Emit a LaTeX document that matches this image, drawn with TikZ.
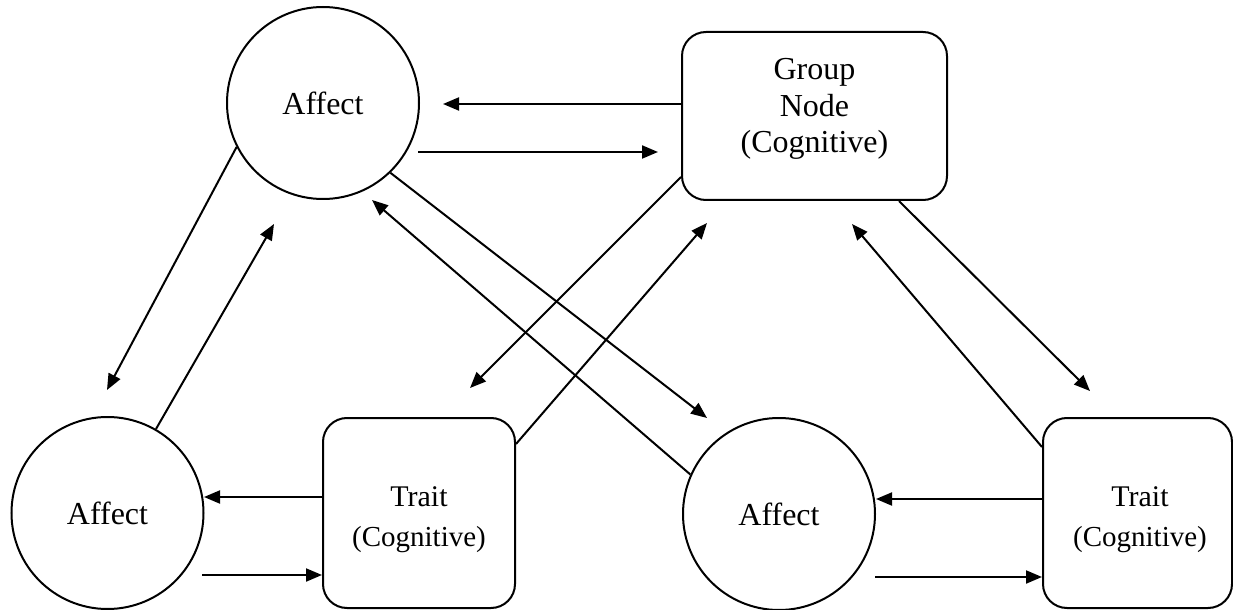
\documentclass[tikz,border=0pt]{standalone}
\usepackage{fontspec}
\setmainfont{Liberation Serif}
\usetikzlibrary{arrows.meta}
\begin{document}
\begin{tikzpicture}[x=0.5pt,y=-0.5pt,
  affect/.style={draw,circle,line width=1pt,minimum size=96pt,inner sep=0pt,font=\fontsize{16}{19}\selectfont},
  cogbox/.style={draw,rounded corners=12pt,line width=1pt,inner sep=0pt},
  boxtext/.style={align=center,inner sep=0pt},
  arr/.style={line width=1pt,-{Triangle[length=8pt,width=6.5pt]}},
  ]
\useasboundingbox (0,0) rectangle (1233,610);
% nodes
\node[affect] (A1) at (323,103) {Affect};
\node[affect] (A2) at (107.5,513) {Affect};
\node[affect] (A3) at (779,514) {Affect};
\node[cogbox,minimum width=132.5pt,minimum height=84pt] (G) at (814.5,116) {};
\node[boxtext,font=\fontsize{16}{18.25}\selectfont] (Gt) at (814.5,109) {Group\\Node\\(Cognitive)};
\node[cogbox,minimum width=96pt,minimum height=95pt] (T1) at (419,513) {};
\node[boxtext,font=\fontsize{15}{20}\selectfont] (T1t) at (419,520) {Trait\\{\fontsize{14.5}{20}\selectfont (Cognitive)}};
\node[cogbox,minimum width=94.5pt,minimum height=95pt] (T2) at (1137.5,513) {};
\node[boxtext,font=\fontsize{15}{20}\selectfont] (T2t) at (1140,520) {Trait\\{\fontsize{14.5}{20}\selectfont (Cognitive)}};
% free ends
\coordinate (e1) at (443,104);
\coordinate (s2) at (418,152);
\coordinate (e2) at (658,152);
\coordinate (e3) at (107,390);
\coordinate (e4) at (274,224);
\coordinate (e5) at (707,418);
\coordinate (e6) at (372,200);
\coordinate (e7) at (470,388);
\coordinate (e8) at (707,223);
\coordinate (e9) at (1090,391);
\coordinate (e10) at (852,224);
\coordinate (e11) at (204,497);
\coordinate (s12) at (202,575);
\coordinate (e13) at (876,499);
\coordinate (s14) at (875,577);
% connectors
\draw[arr] ([yshift=6pt]G.west) -- (e1);
\draw[arr] (s2) -- (e2);
\draw[arr] (A1.207) -- (e3);
\draw[arr] (A2.60) -- (e4);
\draw[arr] (A1.314) -- (e5);
\draw[arr] (A3.156) -- (e6);
\draw[arr] ([yshift=-30.5pt]G.west) -- (e7);
\draw[arr] ([yshift=34.5pt]T1.east) -- (e8);
\draw[arr] ([xshift=42.25pt]G.south) -- (e9);
\draw[arr] ([yshift=33pt]T2.west) -- (e10);
\draw[arr] ([yshift=8pt]T1.west) -- (e11);
\draw[arr] (s12) -- ([yshift=-31pt]T1.west);
\draw[arr] ([yshift=7pt]T2.west) -- (e13);
\draw[arr] (s14) -- ([yshift=-32pt]T2.west);
\end{tikzpicture}
\end{document}
